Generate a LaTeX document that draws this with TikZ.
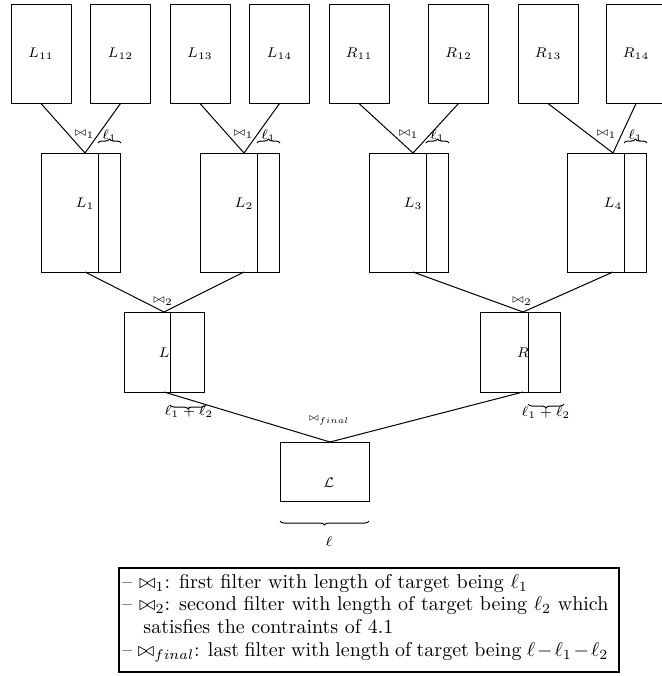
\documentclass[tikz,border=0pt]{standalone}
\usetikzlibrary{decorations.pathreplacing}
\begin{document}
\begin{tikzpicture}[x=0.5pt,y=-0.5pt,
  leaf/.style={draw, line width=0.5pt, minimum width=30pt, minimum height=49.5pt, inner sep=0pt, font=\scriptsize},
  midbox/.style={draw, line width=0.5pt, minimum width=39.5pt, minimum height=59.5pt, inner sep=0pt},
  lowbox/.style={draw, line width=0.5pt, minimum width=40pt, minimum height=40pt, inner sep=0pt},
  finalbox/.style={draw, line width=0.5pt, minimum width=44.5pt, minimum height=29.5pt, inner sep=0pt},
  lbl/.style={inner sep=0pt, font=\scriptsize},
  joinlbl/.style={inner sep=0pt, font=\tiny},
  link/.style={line width=0.5pt},
  brc/.style={decorate, decoration={brace, amplitude=2pt}, line width=0.5pt},
  brcm/.style={decorate, decoration={brace, amplitude=2pt, mirror}, line width=0.5pt},
  legtext/.style={anchor=base west, inner sep=0pt, font=\normalsize}
]
\useasboundingbox (0,0) rectangle (661,676);

% leaf relations
\node[leaf] (L11) at (41,53.5) {$L_{11}$};
\node[leaf] (L12) at (120.5,53.5) {$L_{12}$};
\node[leaf] (L13) at (200,53.5) {$L_{13}$};
\node[leaf] (L14) at (279.5,53.5) {$L_{14}$};
\node[leaf] (R11) at (359,53.5) {$R_{11}$};
\node[leaf] (R12) at (458.5,53.5) {$R_{12}$};
\node[leaf] (R13) at (548,53.5) {$R_{13}$};
\node[leaf] (R14) at (636,53.5) {$R_{14}$};

% first-level join results
\node[midbox] (P1) at (80.5,212.5) {};
\node[midbox] (P2) at (239.5,212.5) {};
\node[midbox] (P3) at (409,212.5) {};
\node[midbox] (P4) at (606.5,212.5) {};
\draw[link] (98,153) -- (98,272);
\draw[link] (257,153) -- (257,272);
\draw[link] (426,153) -- (426,272);
\draw[link] (624,153) -- (624,272);
\node[lbl] (t1) at (85,204) {$L_1$};
\node[lbl] (t2) at (244,204) {$L_2$};
\node[lbl] (t3) at (413,204) {$L_3$};
\node[lbl] (t4) at (613,204) {$L_4$};

\coordinate (j1) at (85,153);
\coordinate (j2) at (244,153);
\coordinate (j3) at (413,153);
\coordinate (j4) at (613,153);
\draw[link] (L11.south) -- (j1) -- (L12.south);
\draw[link] (L13.south) -- (j2) -- (L14.south);
\draw[link] (R11.south) -- (j3) -- (R12.south);
\draw[link] (R13.south) -- (j4) -- (R14.south);

\node[joinlbl] (o1) at (84.5,135) {$\bowtie_1$};
\node[joinlbl] (o2) at (243.5,135) {$\bowtie_1$};
\node[joinlbl] (o3) at (408.5,135) {$\bowtie_1$};
\node[joinlbl] (o4) at (606.5,135) {$\bowtie_1$};

\draw[brc] (98,143) -- (121,143) node[midway, above=0.3pt, lbl] (e1) {$\ell_1$};
\draw[brc] (257,143) -- (280,143) node[midway, above=0.3pt, lbl] (e2) {$\ell_1$};
\draw[brc] (426,143) -- (449,143) node[midway, above=0.3pt, lbl] (e3) {$\ell_1$};
\draw[brc] (624,143) -- (647,143) node[midway, above=0.3pt, lbl] (e4) {$\ell_1$};

% second-level join results
\node[lowbox] (QL) at (164,352) {};
\node[lowbox] (QR) at (520.5,352) {};
\draw[link] (170,312) -- (170,392);
\draw[link] (528,312) -- (528,392);
\node[lbl] (tL) at (164,353) {$L$};
\node[lbl] (tR) at (523,353) {$R$};

\coordinate (b1) at (85,272);
\coordinate (b2) at (244,272);
\coordinate (b3) at (413,272);
\coordinate (b4) at (613,272);
\coordinate (jL) at (164,312);
\coordinate (jR) at (523,312);
\draw[link] (b1) -- (jL) -- (b2);
\draw[link] (b3) -- (jR) -- (b4);
\node[joinlbl] (oL) at (163,302) {$\bowtie_2$};
\node[joinlbl] (oR) at (522,302) {$\bowtie_2$};

\draw[brcm] (170,405) -- (206,405);
\node[lbl] (eL) at (189,412) {$\ell_1+\ell_2$};
\draw[brcm] (528,404) -- (564,404);
\node[lbl] (eR) at (546,412.5) {$\ell_1+\ell_2$};

% final join result
\node[finalbox] (F) at (324.5,471.5) {};
\node[lbl] (tF) at (329,483) {$\mathcal{L}$};
\coordinate (bL) at (164,392);
\coordinate (bR) at (523,392);
\coordinate (jF) at (330,442);
\draw[link] (bL) -- (jF) -- (bR);
\node[joinlbl, scale=0.85] (oF) at (329,421) {$\bowtie_{final}$};
\draw[brcm] (280,521) -- (369,521);
\node[lbl] (eF) at (329,542) {$\ell$};

% legend
\node[draw, line width=0.6pt, inner sep=0pt, minimum width=250pt, minimum height=52pt] (legend) at (369,620) {};
\node[legtext] (leg1) at (122,588) {\textendash\ $\bowtie_1$: first filter with length of target being $\ell_1$};
\node[legtext] (leg2) at (122,610) {\hbox to 243pt{\textendash\ $\bowtie_2$: second filter with length of target being $\ell_2$ which}};
\node[legtext] (leg3) at (143,633) {satisfies the contraints of 4.1};
\node[legtext] (leg4) at (122,656) {\hbox to 243pt{\textendash\ $\bowtie_{final}$: last filter with length of target being $\ell-\ell_1-\ell_2$}};
\end{tikzpicture}
\end{document}
